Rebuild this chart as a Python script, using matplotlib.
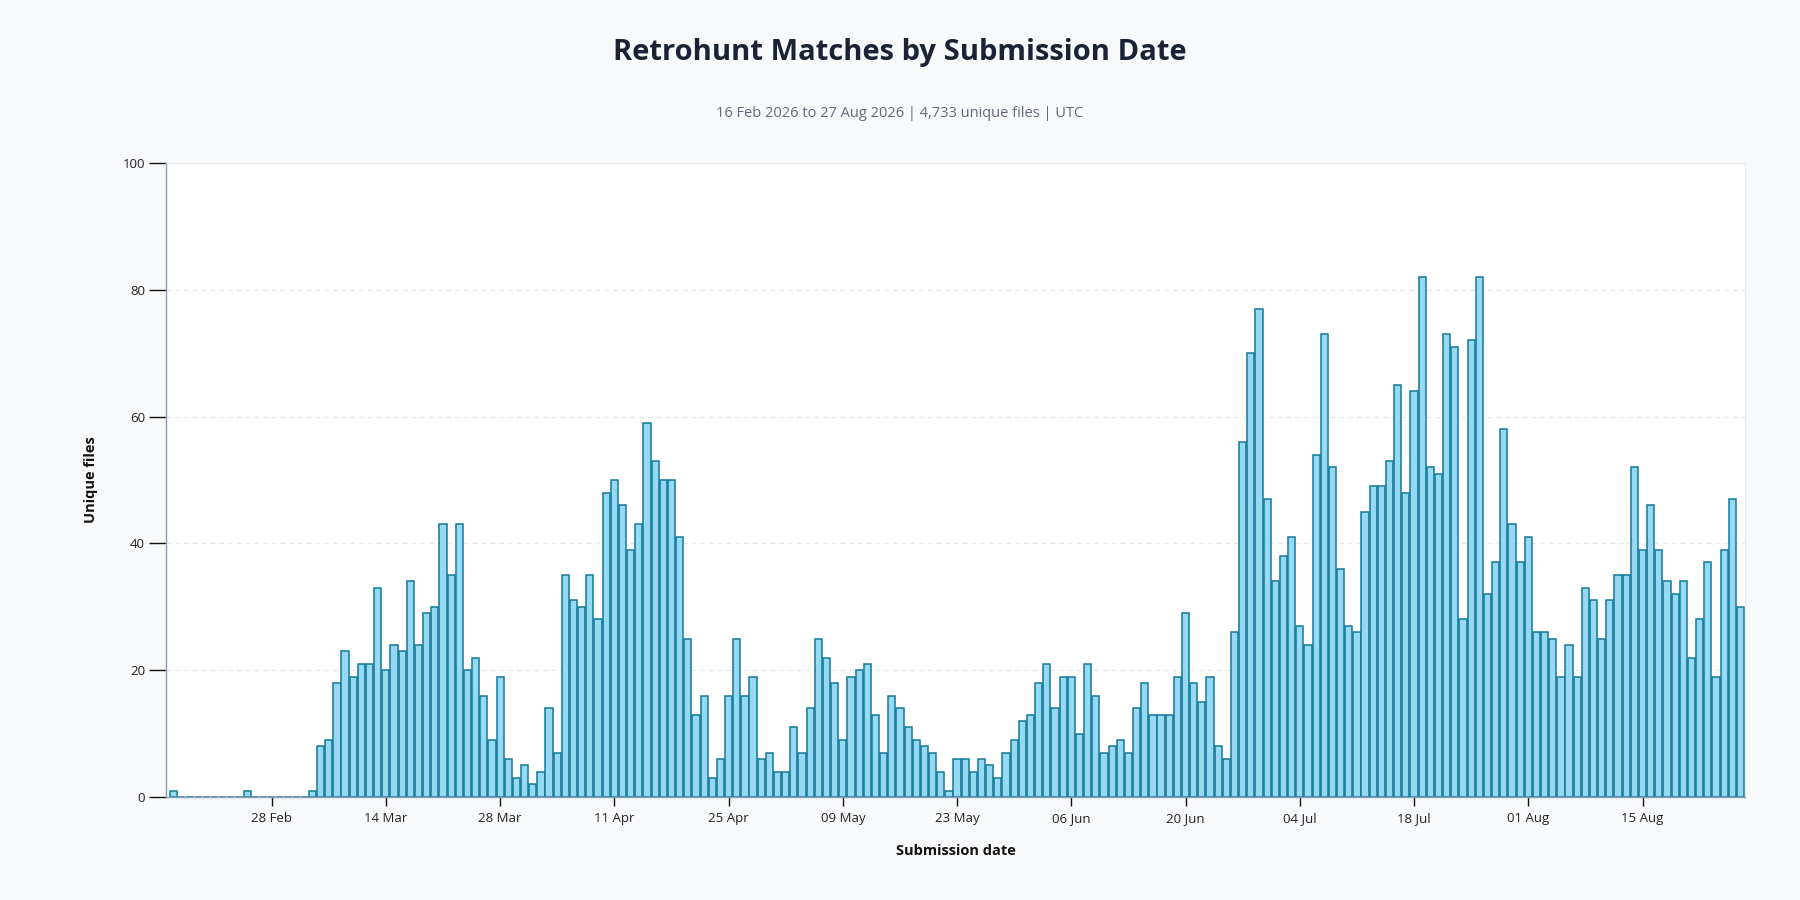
import matplotlib
matplotlib.use("Agg")
import matplotlib.pyplot as plt
import matplotlib.dates as mdates
import numpy as np
import datetime as dt

start_date = dt.date(2026, 2, 16)
counts = [
    1, 0, 0, 0, 0, 0, 0, 0, 0, 1, 0, 0, 0, 0, 0, 0, 0, 1,
    8, 9, 18, 23, 19, 21, 21, 33, 20, 24,
    23, 34, 24, 29, 30, 43, 35, 43, 20, 22,
    16, 9, 19, 6, 3, 5, 2, 4, 14, 7,
    35, 31, 30, 35, 28, 48, 50, 46, 39, 43,
    59, 53, 50, 50, 41, 25, 13, 16, 3, 6,
    16, 25, 16, 19, 6, 7, 4, 4, 11, 7,
    14, 25, 22, 18, 9, 19, 20, 21, 13, 7,
    16, 14, 11, 9, 8, 7, 4, 1, 6, 6,
    4, 6, 5, 3, 7, 9, 12, 13, 18, 21,
    14, 19, 19, 10, 21, 16, 7, 8, 9, 7,
    14, 18, 13, 13, 13, 19, 29, 18, 15, 19,
    8, 6, 26, 56, 70, 77, 47, 34, 38, 41,
    27, 24, 54, 73, 52, 36, 27, 26, 45, 49,
    49, 53, 65, 48, 64, 82, 52, 51, 73, 71,
    28, 72, 82, 32, 37, 58, 43, 37, 41, 26,
    26, 25, 19, 24, 19, 33, 31, 25, 31, 35,
    35, 52, 39, 46, 39, 34, 32, 34, 22, 28,
    37, 19, 39, 47, 30,
]
dates = [start_date + dt.timedelta(days=i) for i in range(len(counts))]
tick_dates = [start_date + dt.timedelta(days=12 + 14 * k) for k in range(13)]
y_ticks = [0, 20, 40, 60, 80, 100]

title = "Retrohunt Matches by Submission Date"
subtitle = "16 Feb 2026 to 27 Aug 2026 | 4,733 unique files | UTC"

plt.rcParams['font.family'] = ['Open Sans', 'DejaVu Sans']

fig = plt.figure(figsize=(18, 9), dpi=100, facecolor="#f8f9fb")
ax = fig.add_axes([0.0922, 0.1144, 0.8772, 0.7046])
ax.set_facecolor("white")

x = mdates.date2num(dates)
ax.bar(x, counts, width=0.88, color="#97d8f3", edgecolor="#117a99", linewidth=1.1, zorder=3)

ax.set_ylim(0, 100)
ax.set_yticks(y_ticks)
ax.set_xticks(mdates.date2num(tick_dates))
ax.xaxis.set_major_formatter(mdates.DateFormatter("%d %b"))
ax.set_xlim(x[0] - 0.95, x[-1] + 0.55)

ax.grid(axis="y", color="#e3e8ef", linestyle=(0, (4, 3)), linewidth=0.9, zorder=0)
for s in ["top", "right"]:
    ax.spines[s].set_color("#e6eaf0")
    ax.spines[s].set_linewidth(0.8)
ax.spines["left"].set_color("#8d9bb3")
ax.spines["bottom"].set_color("#8d9bb3")
ax.spines["left"].set_linewidth(1.0)
ax.spines["bottom"].set_linewidth(1.0)
for s in ax.spines.values():
    s.set_zorder(5)

ax.tick_params(axis="y", length=12, width=1.0, color="#111111", labelsize=9.5, labelcolor="#222222", pad=3)
ax.tick_params(axis="x", length=6.5, width=1.0, color="#111111", labelsize=9.5, labelcolor="#222222", pad=4)

ax.set_ylabel("Unique files", fontsize=10.5, fontweight="bold", color="#111111", labelpad=18)
ax.set_xlabel("Submission date", fontsize=10.5, fontweight="bold", color="#111111", labelpad=14)

fig.text(0.5, 0.942, title, ha="center", va="center", fontsize=21, fontweight="bold", color="#1b2236")
fig.text(0.5, 0.874, subtitle, ha="center", va="center", fontsize=10.5, color="#5f6b7a")

fig.savefig("out.png", dpi=100, facecolor=fig.get_facecolor())
